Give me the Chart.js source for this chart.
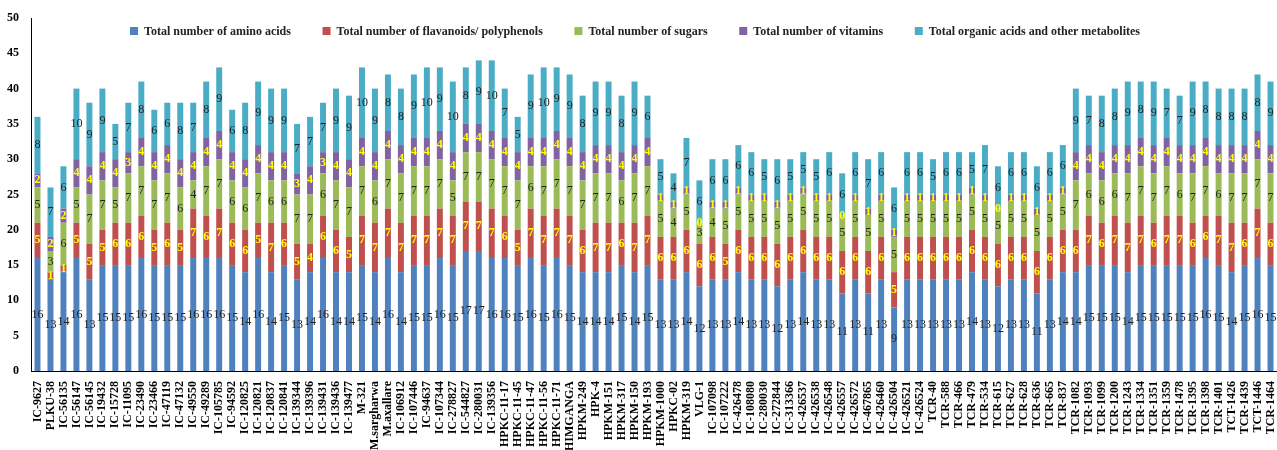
<!DOCTYPE html>
<html>
<head>
<meta charset="utf-8">
<script src="https://cdn.jsdelivr.net/npm/chart.js@4.4.0/dist/chart.umd.min.js"></script>
<style>
  html, body { margin: 0; padding: 0; background: #fff; }
  #wrap { width: 1277px; height: 450px; position: relative; }
</style>
</head>
<body>
<div id="wrap"><canvas id="c"></canvas></div>
<script>
// Genotypes (x-axis categories)
const categories = [
  "IC-9627","PLKU-38","IC-56135","IC-56147","IC-56145","IC-19432","IC-15728","IC-11095",
  "IC-23490","IC-23466","IC-47119","IC-47132","IC-49550","IC-49289","IC-105785","IC-94592",
  "IC-120825","IC-120821","IC-120837","IC-120841","IC-139344","IC-139396","IC-139431","IC-139436",
  "IC-139477","M-321","M.sargharwa","M.axallare","IC-106912","IC-107446","IC-94637","IC-107344",
  "IC-278827","IC-544827","IC-280031","IC-139356","HPKC-11-17","HPKC-11-45","HPKC-11-47","HPKC-11-56",
  "HPKC-11-71","HIMGANGA","HPKM-249","HPK-4","HPKM-151","HPKM-317","HPKM-150","HPKM-193",
  "HPKM-1000","HPKC-02","HPKM-319","VLG-1","IC-107098","IC-107222","IC-426478","IC-108080",
  "IC-280030","IC-272844","IC-313366","IC-426537","IC-426538","IC-426548","IC-426557","IC-426572",
  "IC-467865","IC-426460","IC-426504","IC-426521","IC-426524","TCR-40","TCR-588","TCR-466",
  "TCR-479","TCR-534","TCR-615","TCR-627","TCR-628","TCR-636","TCR-665","TCR-837",
  "TCR-1082","TCR-1093","TCR-1099","TCR-1200","TCR-1243","TCR-1334","TCR-1351","TCR-1359",
  "TCR-1478","TCR-1395","TCR-1398","TCR-1401","TCT-1426","TCR-1439","TCT-1446","TCR-1464"
];

// Metabolite counts per genotype, one array per class
const aminoAcids = [
  16,13,14,16,13,15,15,15, 16,15,15,15,16,16,16,15,
  14,16,14,15,13,14,16,14, 14,15,14,16,14,15,15,16,
  15,17,17,16,16,15,16,15, 16,15,14,14,14,15,14,15,
  13,13,14,12,13,13,14,13, 13,12,13,14,13,13,11,13,
  11,13,9,13,13,13,13,13, 14,13,12,13,13,11,13,14,
  14,15,15,15,14,15,15,15, 15,15,16,15,14,15,16,15
];
const flavonoids = [
  5,1,1,5,5,5,6,6, 6,5,6,5,7,6,7,6,
  6,5,7,6,5,4,6,6, 5,7,7,7,7,7,7,7,
  7,7,7,7,6,5,7,7, 7,7,6,7,7,6,7,7,
  6,6,6,6,6,5,6,6, 6,6,6,6,6,6,6,6,
  6,6,5,6,6,6,6,6, 6,6,6,6,6,6,6,6,
  6,7,6,7,7,7,6,7, 7,6,6,7,7,6,7,6
];
const sugars = [
  5,3,6,5,7,7,5,7, 7,7,7,6,4,7,7,6,
  6,7,6,6,7,7,6,7, 7,7,6,7,7,7,7,7,
  5,7,7,7,7,7,6,7, 7,7,7,7,7,6,7,7,
  5,4,5,3,4,5,5,5, 5,5,5,5,5,5,5,5,
  5,5,5,5,5,5,5,5, 5,5,5,5,5,5,5,5,
  7,6,6,6,7,7,7,7, 6,7,7,6,7,7,7,7
];
const vitamins = [
  2,2,2,4,4,4,4,3, 4,4,4,4,4,4,4,4,
  4,4,4,4,3,4,3,4, 4,4,4,4,4,4,4,4,
  4,4,4,4,4,4,4,4, 4,4,4,4,4,4,4,4,
  1,1,1,0,1,1,1,1, 1,1,1,1,1,1,0,1,
  1,1,1,1,1,1,1,1, 1,1,0,1,1,1,1,1,
  4,4,4,4,4,4,4,4, 4,4,4,4,4,4,4,4
];
const organicAcids = [
  8,7,6,10,9,9,5,7, 8,6,6,8,7,8,9,6,
  8,9,9,9,7,7,7,9, 9,10,9,8,8,9,10,9,
  10,8,9,10,7,5,9,10, 9,9,8,9,9,8,9,6,
  5,4,7,6,6,6,6,6, 5,6,5,5,5,6,6,6,
  7,6,6,6,6,5,6,6, 5,7,6,6,6,6,6,6,
  9,7,8,8,9,8,9,7, 7,9,8,8,8,8,8,9
];

const seriesNames = [
  "Total number of amino acids",
  "Total number of flavanoids/ polyphenols",
  "Total number of sugars",
  "Total number of vitamins",
  "Total organic acids and other metabolites"
];
const seriesColors = ["#4F81BD", "#C0504D", "#9BBB59", "#8064A2", "#4BACC6"];
const valueColors = ["#222222", "#FFFF00", "#222222", "#FFFF00", "#222222"];

const yMin = 0, yMax = 50, yStep = 5;

const SERIF = "'Liberation Serif', 'Times New Roman', serif";

// Writes each segment's count at the middle of its stacked block
const segmentLabels = {
  id: 'segmentLabels',
  afterDatasetsDraw(chart) {
    const ctx = chart.ctx;
    ctx.save();
    ctx.textAlign = 'center';
    ctx.textBaseline = 'middle';
    chart.data.datasets.forEach((ds, i) => {
      const meta = chart.getDatasetMeta(i);
      if (meta.hidden) return;
      const yellow = valueColors[i] === "#FFFF00";
      ctx.font = (yellow ? "bold " : "") + "12px " + SERIF;
      ctx.fillStyle = valueColors[i];
      meta.data.forEach((bar, j) => {
        const y = (bar.y + bar.base) / 2;
        ctx.fillText(String(ds.data[j]), bar.x, y);
      });
    });
    ctx.restore();
  }
};

// One-row key drawn across the top of the plot area, inside the axes
const inlineLegend = {
  id: 'inlineLegend',
  afterDraw(chart) {
    const ctx = chart.ctx;
    const items = chart.data.datasets.map(ds => ({ text: ds.label, color: ds.backgroundColor }));
    const box = 8, gapText = 6;
    const x0 = 130, x1 = 1140, yMid = 31;
    ctx.save();
    ctx.font = "bold 12px " + SERIF;
    ctx.textBaseline = 'middle';
    ctx.textAlign = 'left';
    const widths = items.map(it => ctx.measureText(it.text).width);
    const used = widths.reduce((a, w) => a + w + box + gapText, 0);
    const gap = (x1 - x0 - used) / (items.length - 1);
    let x = x0;
    items.forEach((it, k) => {
      ctx.fillStyle = it.color;
      ctx.fillRect(x, yMid - box / 2, box, box);
      ctx.fillStyle = '#222';
      ctx.fillText(it.text, x + box + gapText, yMid + 1);
      x += box + gapText + widths[k] + gap;
    });
    ctx.restore();
  }
};

const seriesData = [aminoAcids, flavonoids, sugars, vitamins, organicAcids];

new Chart(document.getElementById('c'), {
  type: 'bar',
  data: {
    labels: categories,
    datasets: seriesData.map((arr, i) => ({
      label: seriesNames[i],
      data: arr,
      backgroundColor: seriesColors[i],
      borderWidth: 0,
      barPercentage: 0.46,
      categoryPercentage: 1.0
    }))
  },
  options: {
    responsive: true,
    maintainAspectRatio: false,
    animation: false,
    layout: { padding: { top: 18, right: 0, bottom: 0, left: 0 } },
    plugins: {
      tooltip: { enabled: false },
      legend: { display: false }
    },
    scales: {
      x: {
        stacked: true,
        grid: { display: false },
        border: { display: true, color: '#000', width: 1 },
        ticks: {
          autoSkip: false,
          maxRotation: 90,
          minRotation: 90,
          padding: 2,
          color: '#000',
          font: { family: SERIF, size: 12, weight: 'bold' }
        },
        afterFit(scale) {
          scale.height = 79;
          scale.paddingLeft = 0;
          scale.paddingRight = 0;
        }
      },
      y: {
        stacked: true,
        min: yMin,
        max: yMax,
        grid: { display: false },
        border: { display: true, color: '#000', width: 1 },
        ticks: {
          stepSize: yStep,
          padding: 4,
          color: '#000',
          font: { family: SERIF, size: 12, weight: 'bold' }
        },
        afterFit(scale) {
          scale.width = 31;
          scale.paddingTop = 0;
          scale.paddingBottom = 0;
        }
      }
    }
  },
  plugins: [segmentLabels, inlineLegend]
});
</script>
</body>
</html>
